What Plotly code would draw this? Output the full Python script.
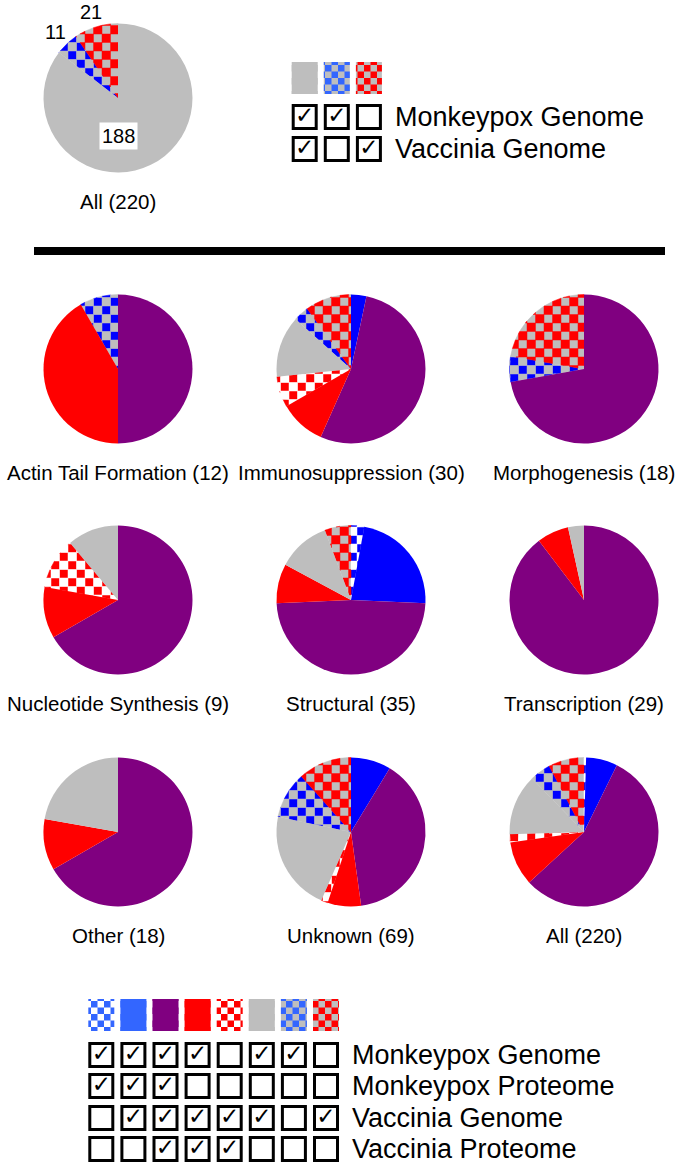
import math
import plotly.graph_objects as go

W, H = 677, 1171

# ---- data ----
# slice classes, in legend / pie order
classes = ["mpx_prot_only", "blue", "purple", "red", "vac_prot_only", "gray", "mpx_only", "vac_only"]
# presence matrix (rows: Monkeypox Genome, Monkeypox Proteome, Vaccinia Genome, Vaccinia Proteome)
row_names = ["Monkeypox Genome", "Monkeypox Proteome", "Vaccinia Genome", "Vaccinia Proteome"]
mpx_genome = [1, 1, 1, 1, 0, 1, 1, 0]
mpx_proteome = [1, 1, 1, 0, 0, 0, 0, 0]
vac_genome = [0, 1, 1, 1, 1, 1, 0, 1]
vac_proteome = [0, 0, 1, 1, 1, 0, 0, 0]

categories = ["Actin Tail Formation", "Immunosuppression", "Morphogenesis",
              "Nucleotide Synthesis", "Structural", "Transcription",
              "Other", "Unknown"]
actin = [0, 0, 6, 5, 0, 0, 1, 0]
immuno = [0, 1, 16, 3, 2, 4, 1, 3]
morpho = [0, 0, 13, 0, 0, 0, 1, 4]
nucleo = [0, 0, 6, 1, 1, 1, 0, 0]
structural = [1, 8, 17, 3, 0, 4, 0, 2]
transcription = [0, 0, 26, 2, 0, 1, 0, 0]
other = [0, 0, 12, 2, 0, 4, 0, 0]
unknown = [0, 6, 27, 5, 1, 15, 7, 8]

per_cat = [actin, immuno, morpho, nucleo, structural, transcription, other, unknown]
all_counts = [sum(c[i] for c in per_cat) for i in range(len(classes))]

# top summary: genome-only view
top_classes = ["gray", "mpx_only", "vac_only"]
top_mg = [1, 1, 0]
top_vg = [1, 0, 1]
top_counts = [
    sum(all_counts[i] for i in range(8) if mpx_genome[i] and vac_genome[i]),
    sum(all_counts[i] for i in range(8) if mpx_genome[i] and not vac_genome[i]),
    sum(all_counts[i] for i in range(8) if vac_genome[i] and not mpx_genome[i]),
]

# ---- styles ----
BLUE, LBLUE, PURPLE, RED, GRAY, WHITE = "#0000ff", "#3366ff", "#800080", "#ff0000", "#bebebe", "#ffffff"
bg_col = {"mpx_prot_only": WHITE, "blue": BLUE, "purple": PURPLE, "red": RED,
          "vac_prot_only": WHITE, "gray": GRAY, "mpx_only": GRAY, "vac_only": GRAY}
fg_col = {"mpx_prot_only": BLUE, "blue": BLUE, "purple": PURPLE, "red": RED,
          "vac_prot_only": RED, "gray": GRAY, "mpx_only": BLUE, "vac_only": RED}
leg_bg = dict(bg_col, blue=LBLUE)
leg_fg = {k: (LBLUE if v == BLUE else v) for k, v in fg_col.items()}
is_checker = {k: bg_col[k] != fg_col[k] for k in classes}

LEG_CHECK = "M0,0H6.5V6.5H0Z M6.5,6.5H13V13H6.5Z"
CELL = 8.5   # checker cell size inside the pies (px)

FONT = "Liberation Sans, Arial, sans-serif"
D = 149

fig = go.Figure()
ann = []
cells = {}   # colour -> list of polygons (checker cells clipped to their wedge)


def clip_poly(subject, clipper):
    # Sutherland-Hodgman, clipper convex
    area = sum(clipper[i - 1][0] * clipper[i][1] - clipper[i][0] * clipper[i - 1][1] for i in range(len(clipper)))
    s = 1 if area > 0 else -1
    out = subject
    for i in range(len(clipper)):
        a, b = clipper[i - 1], clipper[i]
        inp, out = out, []
        if not inp:
            break

        def side(p):
            return s * ((b[0] - a[0]) * (p[1] - a[1]) - (b[1] - a[1]) * (p[0] - a[0]))
        for j in range(len(inp)):
            p, q = inp[j - 1], inp[j]
            sp, sq = side(p), side(q)
            if sq >= 0:
                if sp < 0:
                    t = sp / (sp - sq)
                    out.append((p[0] + t * (q[0] - p[0]), p[1] + t * (q[1] - p[1])))
                out.append(q)
            elif sp >= 0:
                t = sp / (sp - sq)
                out.append((p[0] + t * (q[0] - p[0]), p[1] + t * (q[1] - p[1])))
    return out


def checker_wedge(cx, cy, r, a0, a1, fg, bg):
    # split into convex pieces (<= 90 deg) and fill with clipped checker cells
    nparts = max(1, math.ceil((a1 - a0) / 90))
    for k in range(nparts):
        b0 = a0 + (a1 - a0) * k / nparts
        b1 = a0 + (a1 - a0) * (k + 1) / nparts
        n = max(3, int((b1 - b0) / 2))
        wedge = [(cx, cy)] + [(cx + r * math.sin(math.radians(b0 + (b1 - b0) * t / n)),
                               cy - r * math.cos(math.radians(b0 + (b1 - b0) * t / n))) for t in range(n + 1)]
        xs = [p[0] for p in wedge]
        ys = [p[1] for p in wedge]
        for i in range(math.floor(min(xs) / CELL), math.floor(max(xs) / CELL) + 1):
            for j in range(math.floor(min(ys) / CELL), math.floor(max(ys) / CELL) + 1):
                sq = [(i * CELL, j * CELL), ((i + 1) * CELL, j * CELL),
                      ((i + 1) * CELL, (j + 1) * CELL), (i * CELL, (j + 1) * CELL)]
                poly = clip_poly(sq, wedge)
                if len(poly) >= 3:
                    cells.setdefault(fg if (i + j) % 2 == 0 else bg, []).append(poly)


def add_pie(keys, vals, cx, cy):
    # solid slices from the pie itself; checker slices left transparent and filled underneath
    fig.add_trace(go.Pie(
        labels=keys, values=vals, sort=False, direction="clockwise",
        domain=dict(x=[(cx - D / 2) / W, (cx + D / 2) / W],
                    y=[1 - (cy + D / 2) / H, 1 - (cy - D / 2) / H]),
        marker=dict(colors=["rgba(0,0,0,0)" if is_checker.get(k) else bg_col[k] for k in keys],
                    line=dict(width=0)),
        textinfo="none", hoverinfo="skip", showlegend=False,
    ))
    tot = sum(vals)
    mids, cum = [], 0
    for k, v in zip(keys, vals):
        a0, a1 = cum / tot * 360, (cum + v) / tot * 360
        mids.append((a0 + a1) / 2)
        if v and is_checker.get(k):
            checker_wedge(cx, cy, D / 2, a0, a1, fg_col[k], bg_col[k])
        cum += v
    return mids


# top pie
TOP_CX, TOP_CY = 118, 98
mids = add_pie(top_classes, top_counts, TOP_CX, TOP_CY)
for j, v in enumerate(top_counts):
    if j == 0:
        ann.append(dict(x=TOP_CX, y=TOP_CY + 38, text=str(v), bgcolor="white", borderpad=2,
                        font=dict(size=20, color="black", family=FONT)))
    else:
        r = D / 2 + 16
        a = math.radians(mids[j])
        ann.append(dict(x=TOP_CX + r * math.sin(a), y=TOP_CY - r * math.cos(a), text=str(v),
                        font=dict(size=20, color="black", family=FONT)))
ann.append(dict(x=TOP_CX, y=201, text=f"All ({sum(top_counts)})",
                font=dict(size=20.5, color="black", family=FONT)))

# grid of pies
col_x = [118, 351, 584]
row_y = [369, 600, 832]
label_dy = 103
pies = list(zip(categories, per_cat)) + [("All", all_counts)]
for i, (name, vals) in enumerate(pies):
    cx, cy = col_x[i % 3], row_y[i // 3]
    add_pie(classes, vals, cx, cy)
    ann.append(dict(x=cx, y=cy + label_dy, text=f"{name} ({sum(vals)})",
                    font=dict(size=20.5, color="black", family=FONT)))

# checker cells (cartesian layer sits under the pies)
for col, polys in cells.items():
    px, py = [], []
    for poly in polys:
        px += [p[0] for p in poly] + [poly[0][0], None]
        py += [p[1] for p in poly] + [poly[0][1], None]
    fig.add_trace(go.Scatter(x=px, y=py, mode="lines", fill="toself", fillcolor=col,
                             line=dict(width=0.5, color=col), hoverinfo="skip", showlegend=False))


# legends (swatches as bars + checkbox grid)
def legend(keys, rows, names, x0, sw_top, row_ys, text_x):
    step, bw = 32.1, 26
    xs = [x0 + step * j for j in range(len(keys))]
    n = len(keys)
    fig.add_trace(go.Bar(
        x=xs, y=[32] * n, base=[sw_top] * n, width=bw,
        marker=dict(color=[leg_bg[k] for k in keys], line=dict(width=0)),
        hoverinfo="skip", showlegend=False,
    ))
    fig.add_trace(go.Bar(
        x=xs, y=[32] * n, base=[sw_top] * n, width=bw,
        marker=dict(color=[leg_fg[k] for k in keys], line=dict(width=0),
                    pattern=dict(fillmode="replace", path=LEG_CHECK, size=13,
                                 fgcolor=[leg_fg[k] for k in keys], fgopacity=1)),
        hoverinfo="skip", showlegend=False,
    ))
    bx, by, cxs, cys = [], [], [], []
    for r, flags in enumerate(rows):
        for j, f in enumerate(flags):
            bx.append(xs[j]); by.append(row_ys[r])
            if f:
                cxs.append(xs[j]); cys.append(row_ys[r])
    fig.add_trace(go.Scatter(
        x=bx, y=by, mode="markers",
        marker=dict(symbol="square-open", size=23, color="black", line=dict(width=3, color="black")),
        hoverinfo="skip", showlegend=False,
    ))
    fig.add_trace(go.Scatter(
        x=cxs, y=cys, mode="text", text=["✓"] * len(cxs),
        textfont=dict(size=23, color="black", family="DejaVu Sans"),
        hoverinfo="skip", showlegend=False,
    ))
    for r, nm in enumerate(names):
        ann.append(dict(x=text_x, y=row_ys[r], text=nm, xanchor="left",
                        font=dict(size=27, color="black", family=FONT)))


legend(top_classes, [top_mg, top_vg], ["Monkeypox Genome", "Vaccinia Genome"],
       304.7, 62, [117, 149], 393)
legend(classes, [mpx_genome, mpx_proteome, vac_genome, vac_proteome], row_names,
       101.3, 999, [1055, 1086, 1118, 1149], 350)

for a in ann:
    a.update(xref="x", yref="y", showarrow=False)

fig.update_layout(
    width=W, height=H, margin=dict(l=0, r=0, t=0, b=0),
    paper_bgcolor="white", plot_bgcolor="rgba(0,0,0,0)",
    xaxis=dict(range=[0, W], visible=False, fixedrange=True),
    yaxis=dict(range=[H, 0], visible=False, fixedrange=True),
    barmode="overlay", annotations=ann,
    shapes=[dict(type="line", xref="x", yref="y", x0=34, x1=665, y0=251, y1=251,
                 line=dict(color="black", width=8))],
)
fig.write_html("out.html", config=dict(displayModeBar=False),
               post_script="document.body.style.margin='0';")
